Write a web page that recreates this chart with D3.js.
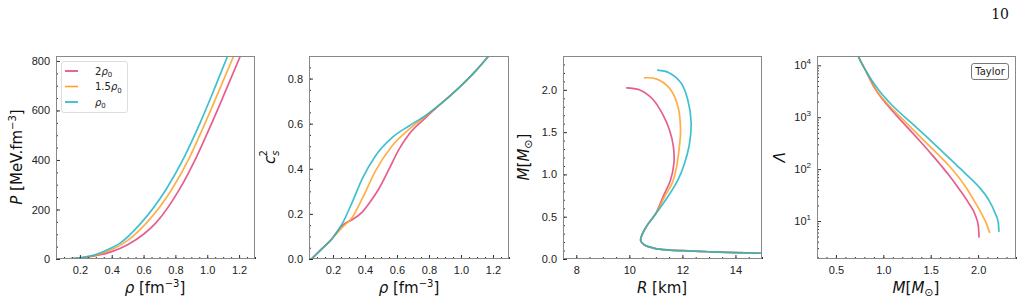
<!DOCTYPE html>
<html>
<head>
<meta charset="utf-8">
<script src="https://cdn.jsdelivr.net/npm/d3@7"></script>
<style>
  body { margin: 0; background: #fff; }
  svg { display: block; font-family: "DejaVu Sans", sans-serif; }
  .tick text { font-size: 11px; fill: #222; }
  .tick line { stroke: #333; }
  .frame { fill: none; stroke: #888; stroke-width: 1; }
  .curve { fill: none; stroke-width: 1.7; stroke-opacity: 0.85; }
  .alabel { font-size: 15px; fill: #111; }
</style>
</head>
<body>
<svg id="fig" width="1025" height="304"></svg>
<script>
// EOS panel figure: P(rho), cs^2(rho), M(R), Lambda(M) for three transition densities

const SERIES = ['2ρ0', '1.5ρ0', 'ρ0'];
const COLORS = ['#e0427a', '#ffa126', '#1cb5c9'];

// panel 1: pressure vs density
const p_rho = [
  [0.05, 0.1, 0.2, 0.3, 0.4, 0.5, 0.6, 0.679, 0.826, 0.935, 1.03, 1.12, 1.208],
  [0.05, 0.1, 0.2, 0.3, 0.4, 0.452, 0.5, 0.62, 0.778, 0.893, 0.988, 1.078, 1.166],
  [0.05, 0.1, 0.2, 0.3, 0.4, 0.452, 0.578, 0.742, 0.857, 0.956, 1.044, 1.128]
];
const p_val = [
  [0, 0.5, 4, 13, 30, 58, 100, 147, 282, 416, 551, 686, 820],
  [0, 0.5, 4, 15, 38, 55, 75, 147, 282, 416, 551, 686, 820],
  [0, 0.5, 5, 18, 45, 64, 141, 282, 414, 551, 686, 820]
];

// panel 2: speed of sound squared
const cs_rho = [
  [0.065, 0.13, 0.194, 0.235, 0.275, 0.319, 0.381, 0.444, 0.485, 0.55, 0.613, 0.675, 0.78, 0.884, 0.988, 1.092, 1.173],
  [0.065, 0.13, 0.194, 0.256, 0.319, 0.381, 0.465, 0.569, 0.675, 0.78, 0.884, 0.988, 1.092, 1.173],
  [0.065, 0.13, 0.194, 0.256, 0.319, 0.381, 0.465, 0.569, 0.675, 0.78, 0.884, 0.988, 1.092, 1.173]
];
const cs_val = [
  [0, 0.045, 0.09, 0.13, 0.158, 0.174, 0.207, 0.265, 0.309, 0.398, 0.487, 0.553, 0.627, 0.694, 0.76, 0.834, 0.9],
  [0, 0.045, 0.09, 0.139, 0.183, 0.265, 0.39, 0.501, 0.575, 0.634, 0.694, 0.76, 0.834, 0.9],
  [0, 0.045, 0.09, 0.154, 0.25, 0.353, 0.457, 0.538, 0.59, 0.637, 0.694, 0.76, 0.834, 0.9]
];

// panel 3: mass-radius
const mr_R = [
  [9.88, 10.38, 10.89, 11.26, 11.52, 11.66, 11.68, 11.55, 11.27, 11.0, 10.64, 10.45, 10.43, 10.57, 10.95, 11.51, 12.0, 13.0, 14.0, 15.0],
  [10.55, 11.01, 11.51, 11.83, 11.93, 11.88, 11.78, 11.62, 11.33, 11.0, 10.64, 10.45, 10.43, 10.57, 10.95, 11.51, 12.0, 13.0, 14.0, 15.0],
  [11.05, 11.51, 11.95, 12.2, 12.33, 12.26, 12.08, 11.83, 11.45, 11.01, 10.64, 10.45, 10.43, 10.57, 10.95, 11.51, 12.0, 13.0, 14.0, 15.0]
];
const mr_M = [
  [2.024, 2.0, 1.886, 1.709, 1.52, 1.33, 1.13, 0.93, 0.736, 0.54, 0.382, 0.264, 0.215, 0.165, 0.126, 0.106, 0.098, 0.086, 0.076, 0.068],
  [2.142, 2.13, 2.02, 1.807, 1.53, 1.31, 1.09, 0.9, 0.736, 0.54, 0.382, 0.264, 0.215, 0.165, 0.126, 0.106, 0.098, 0.086, 0.076, 0.068],
  [2.232, 2.2, 2.08, 1.886, 1.61, 1.35, 1.13, 0.933, 0.736, 0.54, 0.382, 0.264, 0.215, 0.165, 0.126, 0.106, 0.098, 0.086, 0.076, 0.068]
];

// panel 4: tidal deformability (log10 Lambda)
const lm_M = [
  [0.70, 0.734, 0.824, 0.909, 1.049, 1.206, 1.371, 1.521, 1.609, 1.689, 1.794, 1.899, 1.969, 2.003, 2.01],
  [0.70, 0.734, 0.826, 0.92, 1.066, 1.242, 1.416, 1.591, 1.696, 1.864, 1.969, 2.04, 2.09, 2.123],
  [0.70, 0.734, 0.828, 0.944, 1.101, 1.294, 1.486, 1.661, 1.783, 1.864, 2.003, 2.108, 2.178, 2.213, 2.22]
];
const lm_logL = [
  [4.33, 4.18, 3.86, 3.56, 3.22, 2.9, 2.57, 2.26, 2.07, 1.89, 1.63, 1.35, 1.12, 0.9, 0.68],
  [4.33, 4.18, 3.857, 3.537, 3.216, 2.894, 2.574, 2.26, 2.06, 1.67, 1.36, 1.13, 0.94, 0.77],
  [4.33, 4.18, 3.857, 3.537, 3.216, 2.894, 2.574, 2.27, 2.06, 1.92, 1.67, 1.42, 1.16, 0.97, 0.79]
];

const svg = d3.select('#fig');

function addTicks(g, axisFn, scale, major, minor, fmt, pad) {
  const a = axisFn(scale).tickValues(major).tickSize(-4).tickPadding(pad).tickFormat(fmt);
  const ga = g.append('g').call(a);
  ga.select('.domain').remove();
  const b = axisFn(scale).tickValues(minor).tickSize(-2).tickFormat('');
  const gb = g.append('g').call(b);
  gb.select('.domain').remove();
  return ga;
}

function range(a, b, s) {
  const out = [];
  for (let v = a; v <= b + 1e-9; v += s) out.push(+v.toFixed(6));
  return out;
}

function panel(id, box, xArr, yArr, opts) {
  const [x0, y0, x1, y1] = box;
  const g = svg.append('g');
  const x = d3.scaleLinear().domain(opts.xd).range([x0, x1]);
  const y = d3.scaleLinear().domain(opts.yd).range([y1, y0]);

  svg.append('clipPath').attr('id', 'clip' + id)
    .append('rect').attr('x', x0).attr('y', y0).attr('width', x1 - x0).attr('height', y1 - y0);

  const line = d3.line().curve(opts.curve);
  const cg = g.append('g').attr('clip-path', `url(#clip${id})`);
  xArr.forEach((xa, i) => {
    const pts = xa.map((v, j) => [x(v), y(yArr[i][j])]);
    cg.append('path').attr('class', 'curve').attr('stroke', COLORS[i]).attr('d', line(pts));
  });

  const gx = g.append('g').attr('transform', `translate(0,${y1})`);
  addTicks(gx, d3.axisBottom, x, opts.xmaj, opts.xmin, opts.xfmt, 7);
  const gy = g.append('g').attr('transform', `translate(${x0},0)`);
  const gyMaj = addTicks(gy, d3.axisLeft, y, opts.ymaj, opts.ymin, opts.yfmt, 6);

  g.append('rect').attr('class', 'frame')
    .attr('x', x0 + 0.5).attr('y', y0 + 0.5).attr('width', x1 - x0 - 1).attr('height', y1 - y0 - 1);

  return { g, x, y, gyMaj };
}

const f1 = d3.format('.1f');

// ---- panel 1
panel(1, [56, 56, 255, 259], p_rho, p_val, {
  curve: d3.curveMonotoneX,
  xd: [0.05, 1.3], yd: [0, 820],
  xmaj: range(0.2, 1.2, 0.2), xmin: range(0.05, 1.3, 0.05), xfmt: f1,
  ymaj: range(0, 800, 200), ymin: range(0, 800, 50), yfmt: d3.format('d')
});

// ---- panel 2
panel(2, [309, 56, 509, 259], cs_rho, cs_val, {
  curve: d3.curveMonotoneX,
  xd: [0.05, 1.3], yd: [0, 0.9],
  xmaj: range(0.2, 1.2, 0.2), xmin: range(0.05, 1.3, 0.05), xfmt: f1,
  ymaj: range(0, 0.8, 0.2), ymin: range(0, 0.9, 0.05), yfmt: f1
});

// ---- panel 3
panel(3, [563, 56, 762, 259], mr_R, mr_M, {
  curve: d3.curveCatmullRom.alpha(0.5),
  xd: [7.5, 15], yd: [0, 2.4],
  xmaj: [8, 10, 12, 14], xmin: range(7.5, 15, 0.5), xfmt: d3.format('d'),
  ymaj: range(0, 2.0, 0.5), ymin: range(0, 2.4, 0.1), yfmt: f1
});

// ---- panel 4 (log y drawn on log10 values)
const logMinor = [];
for (let e = 0; e <= 4; e++) for (let k = 2; k <= 9; k++) {
  const v = Math.log10(k * Math.pow(10, e));
  if (v > 0.27 && v < 4.18) logMinor.push(v);
}
const P4 = panel(4, [817, 56, 1016, 259], lm_M, lm_logL, {
  curve: d3.curveMonotoneX,
  xd: [0.3, 2.4], yd: [0.268, 4.18],
  xmaj: range(0.5, 2.0, 0.5), xmin: range(0.3, 2.4, 0.1), xfmt: f1,
  ymaj: [1, 2, 3, 4], ymin: logMinor, yfmt: () => ''
});
P4.gyMaj.selectAll('.tick text').each(function (d) {
  const t = d3.select(this);
  t.append('tspan').text('10');
  t.append('tspan').attr('dy', -5).attr('font-size', 8).text(d);
});

// ---- legend (panel 1)
const lg = svg.append('g');
lg.append('rect').attr('x', 61.5).attr('y', 61.5).attr('width', 66).attr('height', 51)
  .attr('rx', 2.5).attr('fill', '#fff').attr('stroke', '#ddd');
const legendLabels = [
  ['2', 'ρ', '0'], ['1.5', 'ρ', '0'], ['', 'ρ', '0']
];
legendLabels.forEach((lab, i) => {
  const yy = 71 + i * 15.5;
  lg.append('line').attr('x1', 65).attr('x2', 78).attr('y1', yy).attr('y2', yy)
    .attr('stroke', COLORS[i]).attr('stroke-width', 1.6);
  const t = lg.append('text').attr('x', 95).attr('y', yy + 3.5).attr('font-size', 10).attr('fill', '#222');
  t.append('tspan').text(lab[0]);
  t.append('tspan').attr('font-style', 'italic').text(lab[1]);
  t.append('tspan').attr('dy', 2.5).attr('font-size', 7).text(lab[2]);
});

// ---- Taylor box (panel 4)
svg.append('rect').attr('x', 971.5).attr('y', 63.5).attr('width', 37).attr('height', 16)
  .attr('rx', 2.5).attr('fill', '#fff').attr('stroke', '#777');
svg.append('text').attr('x', 990).attr('y', 75).attr('text-anchor', 'middle')
  .attr('font-size', 10).attr('fill', '#222').text('Taylor');

// ---- axis labels
function xlabel(cx, build) {
  const t = svg.append('text').attr('class', 'alabel').attr('x', cx).attr('y', 293).attr('text-anchor', 'middle');
  build(t);
}
function ylabel(cx, cy, build) {
  const t = svg.append('text').attr('class', 'alabel')
    .attr('transform', `translate(${cx},${cy}) rotate(-90)`).attr('text-anchor', 'middle');
  build(t);
}
const rhoLabel = t => {
  t.append('tspan').attr('font-style', 'italic').text('ρ');
  t.append('tspan').text(' [fm');
  t.append('tspan').attr('dy', -6).attr('font-size', 10).text('−3');
  t.append('tspan').attr('dy', 6).text(']');
};
xlabel(155, rhoLabel);
xlabel(409, rhoLabel);
xlabel(662, t => {
  t.append('tspan').attr('font-style', 'italic').text('R');
  t.append('tspan').text(' [km]');
});
const mLabel = t => {
  t.append('tspan').attr('font-style', 'italic').text('M');
  t.append('tspan').text('[');
  t.append('tspan').attr('font-style', 'italic').text('M');
  t.append('tspan').attr('dy', 3).attr('font-size', 11).text('⊙');
  t.append('tspan').attr('dy', -3).text(']');
};
xlabel(916, mLabel);

ylabel(22, 157, t => {
  t.append('tspan').attr('font-style', 'italic').text('P');
  t.append('tspan').text(' [MeV.fm');
  t.append('tspan').attr('dy', -6).attr('font-size', 10).text('−3');
  t.append('tspan').attr('dy', 6).text(']');
});
ylabel(275, 157, t => {
  t.append('tspan').attr('font-style', 'italic').text('c');
  t.append('tspan').attr('dy', 4).attr('font-size', 10).attr('font-style', 'italic').text('s');
  t.append('tspan').attr('dx', -6).attr('dy', -12).attr('font-size', 10).text('2');
});
ylabel(529, 157, mLabel);
ylabel(785, 157, t => {
  t.append('tspan').attr('font-style', 'italic').text('Λ');
});

// page number
svg.append('text').attr('x', 1009).attr('y', 19).attr('text-anchor', 'end')
  .attr('font-family', '"DejaVu Serif", serif').attr('font-size', 14).attr('fill', '#111').text('10');
</script>
</body>
</html>
